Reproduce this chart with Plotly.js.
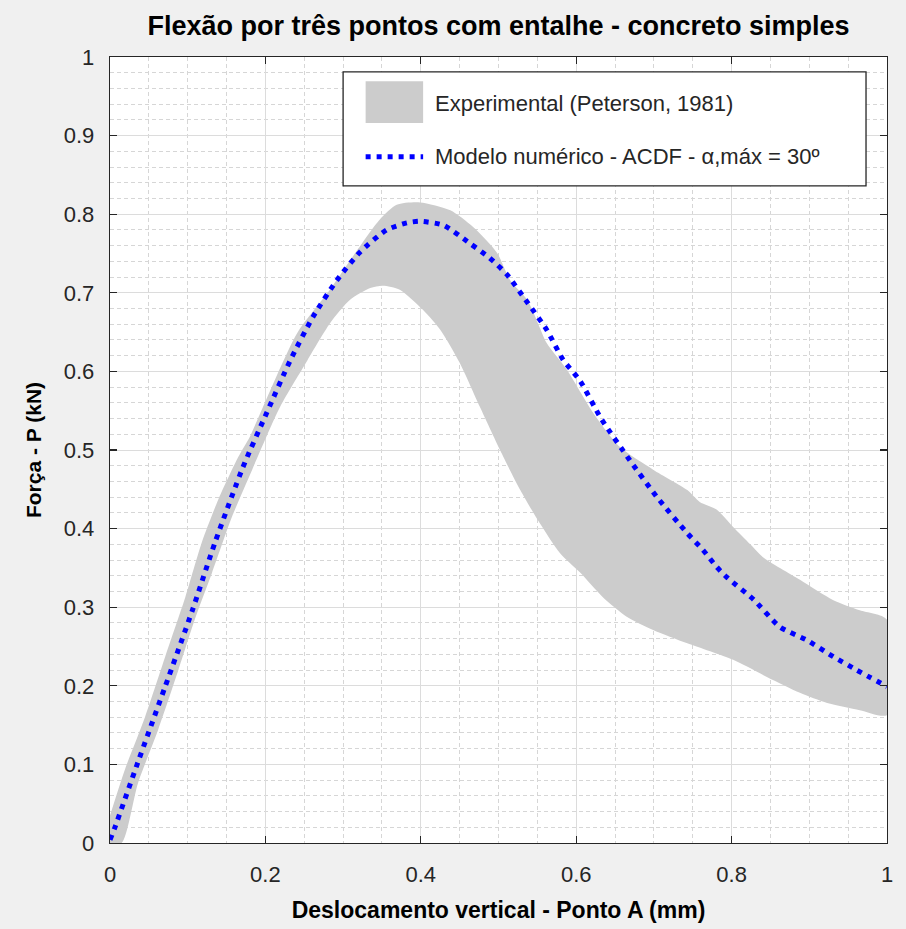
<!DOCTYPE html>
<html>
<head>
<meta charset="utf-8">
<script src="https://cdn.plot.ly/plotly-3.0.1.min.js"></script>
<style>
  html, body { margin: 0; padding: 0; background: #f0f0f0; }
  #chart { width: 906px; height: 929px; }
</style>
</head>
<body>
<div id="chart"></div>
<script>
// Experimental envelope (Peterson, 1981): upper and lower limits of the scatter band
const bandUpperX = [0, 0.019, 0.045, 0.071, 0.097, 0.118, 0.139, 0.165, 0.180, 0.197, 0.241, 0.283, 0.318, 0.347, 0.369, 0.399, 0.438, 0.467, 0.498, 0.515, 0.537, 0.553, 0.562, 0.588, 0.622, 0.656, 0.699, 0.743, 0.759, 0.781, 0.802, 0.824, 0.840, 0.888, 0.931, 0.965, 1.0];
const bandUpperY = [0.035, 0.093, 0.160, 0.237, 0.313, 0.382, 0.436, 0.491, 0.517, 0.555, 0.649, 0.704, 0.754, 0.793, 0.812, 0.815, 0.805, 0.784, 0.751, 0.716, 0.691, 0.656, 0.636, 0.602, 0.547, 0.504, 0.475, 0.449, 0.434, 0.424, 0.402, 0.380, 0.364, 0.335, 0.309, 0.296, 0.284];
const bandLowerX = [0.015, 0.036, 0.062, 0.088, 0.109, 0.131, 0.157, 0.183, 0.219, 0.254, 0.283, 0.309, 0.335, 0.351, 0.373, 0.403, 0.425, 0.450, 0.476, 0.502, 0.528, 0.553, 0.579, 0.605, 0.634, 0.665, 0.699, 0.743, 0.802, 0.846, 0.888, 0.923, 0.965, 1.0];
const bandLowerY = [0.0, 0.076, 0.144, 0.220, 0.284, 0.343, 0.415, 0.475, 0.555, 0.614, 0.661, 0.691, 0.706, 0.709, 0.704, 0.678, 0.653, 0.611, 0.555, 0.500, 0.449, 0.407, 0.369, 0.344, 0.313, 0.288, 0.271, 0.254, 0.233, 0.211, 0.191, 0.178, 0.169, 0.163];

// Numerical model (ACDF, alpha max = 30 degrees)
const modelX = [0.0, 0.006, 0.036, 0.071, 0.106, 0.135, 0.171, 0.202, 0.232, 0.261, 0.292, 0.322, 0.356, 0.382, 0.399, 0.429, 0.463, 0.489, 0.511, 0.537, 0.562, 0.583, 0.605, 0.632, 0.669, 0.704, 0.743, 0.763, 0.781, 0.794, 0.828, 0.862, 0.897, 0.931, 0.961, 1.0];
const modelY = [0.004, 0.019, 0.103, 0.199, 0.296, 0.382, 0.478, 0.548, 0.614, 0.669, 0.716, 0.752, 0.780, 0.789, 0.791, 0.786, 0.763, 0.744, 0.723, 0.688, 0.653, 0.615, 0.588, 0.540, 0.487, 0.440, 0.394, 0.373, 0.351, 0.338, 0.310, 0.275, 0.258, 0.237, 0.220, 0.199];

// Text
const chartTitle = 'Flexão por três pontos com entalhe - concreto simples';
const xTitle = 'Deslocamento vertical - Ponto A (mm)';
const yTitle = 'Força - P (kN)';
const legendLabels = ['Experimental (Peterson, 1981)', 'Modelo numérico - ACDF - α,máx = 30º'];

const BLUE = '#0000ff';
const BAND = '#cccccc';
const DOT = '5px,6px';

// closed polygon: upper limit left->right, lower limit right->left
const polyX = bandUpperX.concat(bandLowerX.slice().reverse(), [0]);
const polyY = bandUpperY.concat(bandLowerY.slice().reverse(), [0]);

const traces = [
  {
    x: polyX, y: polyY, type: 'scatter', mode: 'lines',
    fill: 'toself', fillcolor: BAND,
    line: { width: 0, color: BAND, shape: 'spline', smoothing: 0.7 },
    name: legendLabels[0], hoverinfo: 'skip'
  },
  {
    x: modelX, y: modelY, type: 'scatter', mode: 'lines',
    line: { color: BLUE, width: 5, dash: DOT, shape: 'spline', smoothing: 0.6 },
    name: legendLabels[1]
  }
];

const axisCommon = {
  range: [0, 1],
  ticks: 'inside', ticklen: 7, tickwidth: 1.3, tickcolor: '#262626',
  showline: true, linecolor: '#262626', linewidth: 1.3, mirror: 'ticks',
  showgrid: true, gridcolor: '#dcdcdc', gridwidth: 1,
  zeroline: false, fixedrange: true,
  tickfont: { size: 22, color: '#262626' }
};

// legend box, drawn in paper coordinates of the plotting area
const legendBox = { x0: 0.300, x1: 0.973, y0: 0.836, y1: 0.981 };

const layout = {
  width: 906, height: 929,
  paper_bgcolor: '#f0f0f0', plot_bgcolor: '#ffffff',
  margin: { l: 110, r: 19, t: 57, b: 86, pad: 0 },
  showlegend: false,
  font: { family: 'Liberation Sans, Arial, sans-serif', color: '#262626', size: 22 },
  title: {
    text: '<b>' + chartTitle + '</b>',
    font: { size: 27, color: '#000000' },
    x: 0.5, xref: 'paper', xanchor: 'center',
    y: 1 - 26 / 929, yref: 'container', yanchor: 'middle'
  },
  xaxis: Object.assign({}, axisCommon, {
    tick0: 0, dtick: 0.2,
    ticklabelstandoff: 11,
    minor: { dtick: 0.05, showgrid: true, gridcolor: '#d6d6d6', griddash: '4px,3px', gridwidth: 1 },
    title: { text: '<b>' + xTitle + '</b>', font: { size: 23, color: '#000000' }, standoff: 16 }
  }),
  yaxis: Object.assign({}, axisCommon, {
    tick0: 0, dtick: 0.1,
    ticklabelstandoff: 10,
    minor: { dtick: 0.02, showgrid: true, gridcolor: '#d6d6d6', griddash: '4px,3px', gridwidth: 1 },
    title: { text: '<b>' + yTitle + '</b>', font: { size: 21, color: '#000000' }, standoff: 16 }
  }),
  shapes: [
    { type: 'rect', xref: 'paper', yref: 'paper',
      x0: legendBox.x0, x1: legendBox.x1, y0: legendBox.y0, y1: legendBox.y1,
      fillcolor: '#ffffff', line: { color: '#262626', width: 1.3 } },
    { type: 'rect', xref: 'paper', yref: 'paper',
      x0: 0.329, x1: 0.403, y0: 0.916, y1: 0.969,
      fillcolor: BAND, line: { width: 0 } },
    { type: 'line', xref: 'paper', yref: 'paper',
      x0: 0.329, x1: 0.403, y0: 0.873, y1: 0.873,
      line: { color: BLUE, width: 5, dash: DOT } }
  ],
  annotations: [
    { xref: 'paper', yref: 'paper', x: 0.416, y: 0.941, xanchor: 'left', yanchor: 'middle',
      text: legendLabels[0], showarrow: false, font: { size: 22, color: '#262626' } },
    { xref: 'paper', yref: 'paper', x: 0.416, y: 0.873, xanchor: 'left', yanchor: 'middle',
      text: legendLabels[1], showarrow: false, font: { size: 22, color: '#262626' } }
  ]
};

Plotly.newPlot('chart', traces, layout, { displayModeBar: false, staticPlot: true });
</script>
</body>
</html>
